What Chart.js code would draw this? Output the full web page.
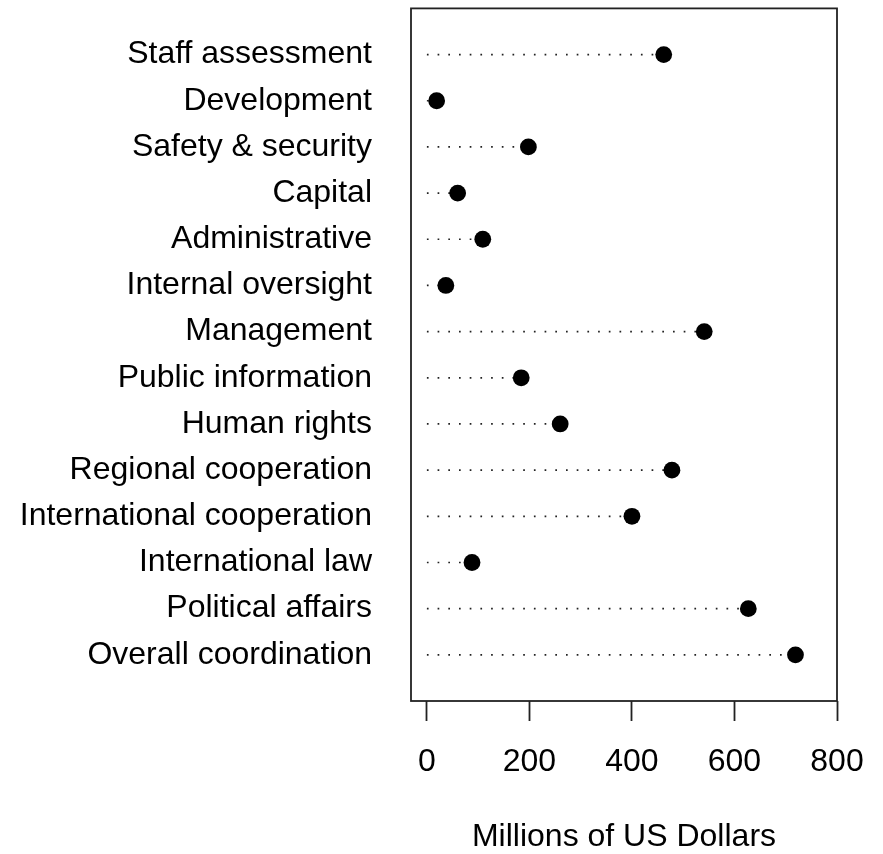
<!DOCTYPE html>
<html>
<head>
<meta charset="utf-8">
<script src="https://cdn.jsdelivr.net/npm/chart.js@4/dist/chart.umd.min.js"></script>
<style>
  html, body { margin: 0; padding: 0; background: #fff; }
  canvas { display: block; }
</style>
</head>
<body>
<canvas id="dotchart" width="883" height="854"></canvas>
<script>
// categories top to bottom, as they appear in the chart
var categories = ["Staff assessment", "Development", "Safety & security", "Capital",
  "Administrative", "Internal oversight", "Management", "Public information",
  "Human rights", "Regional cooperation", "International cooperation",
  "International law", "Political affairs", "Overall coordination"];
var spending = [462, 19, 198, 60, 109, 37, 541, 184, 260, 478, 400, 88, 627, 719];
var xTicks = [0, 200, 400, 600, 800];
var xTitle = "Millions of US Dollars";

var FONT = "'Liberation Sans', Arial, Helvetica, sans-serif";
var n = categories.length;

function rowOf(i) { return n - i; }

var datasets = [{
  type: 'scatter',
  data: spending.map(function (v, i) { return { x: v, y: rowOf(i) }; }),
  pointRadius: 8.4,
  pointBackgroundColor: '#000',
  pointBorderWidth: 0,
  order: 0
}];

// dotted leader from 0 to each value
spending.forEach(function (v, i) {
  datasets.push({
    type: 'line',
    data: [{ x: 0, y: rowOf(i) }, { x: v, y: rowOf(i) }],
    borderColor: '#222',
    borderWidth: 1.7,
    borderDash: [1.7, 9.0],
    pointRadius: 0,
    order: 1
  });
});

var boxPlugin = {
  id: 'box',
  afterDraw: function (chart) {
    var a = chart.chartArea, ctx = chart.ctx;
    ctx.save();
    ctx.strokeStyle = '#222';
    ctx.lineWidth = 1.8;
    ctx.strokeRect(a.left, a.top, a.right - a.left, a.bottom - a.top);
    ctx.restore();
  }
};

new Chart(document.getElementById('dotchart'), {
  type: 'scatter',
  data: { datasets: datasets },
  plugins: [boxPlugin],
  options: {
    responsive: false,
    animation: false,
    layout: { padding: { top: 7, right: 46, left: 0, bottom: 0 } },
    plugins: { legend: { display: false }, tooltip: { enabled: false } },
    scales: {
      x: {
        type: 'linear',
        min: -31,
        max: 800,
        afterBuildTicks: function (scale) {
          scale.ticks = xTicks.map(function (v) { return { value: v }; });
        },
        afterFit: function (scale) {
          scale.height = 153;
          scale.paddingLeft = 0;
          scale.paddingRight = 0;
        },
        border: { display: false },
        grid: { display: true, drawOnChartArea: false, drawTicks: true, tickLength: 20, tickColor: '#222', tickWidth: 1.8 },
        ticks: { color: '#000', font: { family: FONT, size: 32 }, padding: 22, maxRotation: 0 },
        title: { display: true, text: xTitle, color: '#000', font: { family: FONT, size: 32, lineHeight: 1.05 }, padding: { top: 0, bottom: 0 } }
      },
      y: {
        type: 'linear',
        min: 0,
        max: n + 1,
        afterBuildTicks: function (scale) {
          scale.ticks = categories.map(function (c, i) { return { value: rowOf(i) }; });
        },
        afterFit: function (scale) {
          scale.width = 411;
          scale.paddingTop = 0;
          scale.paddingBottom = 0;
        },
        border: { display: false },
        grid: { display: false, drawTicks: false },
        ticks: {
          autoSkip: false,
          color: '#000',
          font: { family: FONT, size: 32 },
          padding: 39,
          callback: function (value) { return categories[n - value]; }
        }
      }
    }
  }
});
</script>
</body>
</html>
